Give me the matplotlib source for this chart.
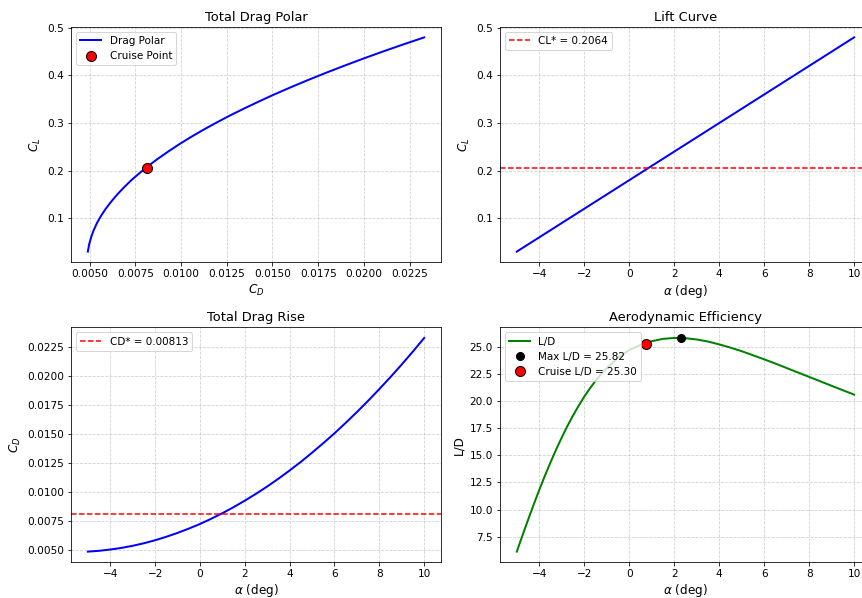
import matplotlib
matplotlib.use('Agg')
import matplotlib.pyplot as plt
import numpy as np

# angle of attack (deg)
alpha = [-5.0, -4.5, -4.0, -3.5, -3.0, -2.5, -2.0, -1.5, -1.0, -0.5,
         0.0, 0.5, 1.0, 1.5, 2.0, 2.5, 3.0, 3.5, 4.0, 4.5,
         5.0, 5.5, 6.0, 6.5, 7.0, 7.5, 8.0, 8.5, 9.0, 9.5, 10.0]
CL = [0.030, 0.045, 0.060, 0.075, 0.090, 0.105, 0.120, 0.135, 0.150, 0.165,
      0.180, 0.195, 0.210, 0.225, 0.240, 0.255, 0.270, 0.285, 0.300, 0.315,
      0.330, 0.345, 0.360, 0.375, 0.390, 0.405, 0.420, 0.435, 0.450, 0.465, 0.480]
CD = [0.00490, 0.00497, 0.00508, 0.00522, 0.00540, 0.00562, 0.00588, 0.00618,
      0.00651, 0.00688, 0.00728, 0.00773, 0.00821, 0.00873, 0.00929, 0.00988,
      0.01051, 0.01118, 0.01189, 0.01263, 0.01342, 0.01424, 0.01509, 0.01599,
      0.01692, 0.01789, 0.01890, 0.01994, 0.02102, 0.02214, 0.02330]

# L/D read at a finer step where the curve bends sharply
alpha_ld = [-5.0, -4.75, -4.5, -4.25, -4.0, -3.75, -3.5, -3.25, -3.0, -2.75,
            -2.5, -2.25, -2.0, -1.75, -1.5, -1.25, -1.0, -0.5,
            0.0, 0.5, 1.0, 1.5, 2.0, 2.5, 3.0, 3.5, 4.0, 4.5,
            5.0, 5.5, 6.0, 6.5, 7.0, 7.5, 8.0, 8.5, 9.0, 9.5, 10.0]
LD = [6.12, 7.61, 9.05, 10.46, 11.82, 13.12, 14.36, 15.54, 16.65, 17.70,
      18.67, 19.57, 20.41, 21.17, 21.86, 22.49, 23.05, 23.99,
      24.71, 25.18, 25.52, 25.74, 25.82, 25.80, 25.68, 25.49, 25.23, 24.93,
      24.60, 24.23, 23.85, 23.46, 23.05, 22.64, 22.23, 21.82, 21.41, 21.00, 20.60]

CL_star = 0.2064
CD_star = 0.00813
alpha_cruise = 0.76
LD_cruise = 25.30
alpha_max = 2.3
LD_max = 25.82

plt.rcParams['xtick.labelsize'] = 10.5
plt.rcParams['ytick.labelsize'] = 10.5
plt.rcParams['legend.fontsize'] = 10.4

fig = plt.figure(figsize=(862/72, 598/72), dpi=72)
ax1 = fig.add_axes([0.0824, 0.5614, 0.4292, 0.3940])
ax2 = fig.add_axes([0.5800, 0.5614, 0.4304, 0.3940])
ax3 = fig.add_axes([0.0824, 0.0597, 0.4292, 0.3930])
ax4 = fig.add_axes([0.5800, 0.0597, 0.4304, 0.3930])

# drag polar
ax1.plot(CD, CL, 'b-', lw=2, label='Drag Polar')
ax1.plot(CD_star, CL_star, 'ro', ms=10, mec='k', label='Cruise Point')
ax1.set_xlabel('$C_D$', fontsize=12)
ax1.set_ylabel('$C_L$', fontsize=12)
ax1.set_title('Total Drag Polar', fontsize=13)
ax1.legend(loc='upper left')

# lift curve
ax2.plot(alpha, CL, 'b-', lw=2)
ax2.axhline(CL_star, color='r', ls='--', lw=1.5, label='CL* = {:.4f}'.format(CL_star))
ax2.set_xlabel(r'$\alpha$ (deg)', fontsize=12)
ax2.set_ylabel('$C_L$', fontsize=12)
ax2.set_title('Lift Curve', fontsize=13)
ax2.legend(loc='upper left')

# drag rise
ax3.plot(alpha, CD, 'b-', lw=2)
ax3.axhline(CD_star, color='r', ls='--', lw=1.5, label='CD* = {:.5f}'.format(CD_star))
ax3.set_xlabel(r'$\alpha$ (deg)', fontsize=12, labelpad=3)
ax3.set_ylabel('$C_D$', fontsize=12)
ax3.set_title('Total Drag Rise', fontsize=13)
ax3.legend(loc='upper left')

# L/D
ax4.plot(alpha_ld, LD, 'g-', lw=2, label='L/D')
ax4.plot(alpha_max, LD_max, 'ko', ms=8, label='Max L/D = {:.2f}'.format(LD_max))
ax4.plot(alpha_cruise, LD_cruise, 'ro', ms=10, mec='k', label='Cruise L/D = {:.2f}'.format(LD_cruise))
ax4.set_xlabel(r'$\alpha$ (deg)', fontsize=12, labelpad=3)
ax4.set_ylabel('L/D', fontsize=12)
ax4.set_title('Aerodynamic Efficiency', fontsize=13)
ax4.legend(loc='upper left')

for ax in (ax1, ax2, ax3, ax4):
    ax.grid(True, ls='--', alpha=0.6)

fig.savefig('out.png', dpi=72)
